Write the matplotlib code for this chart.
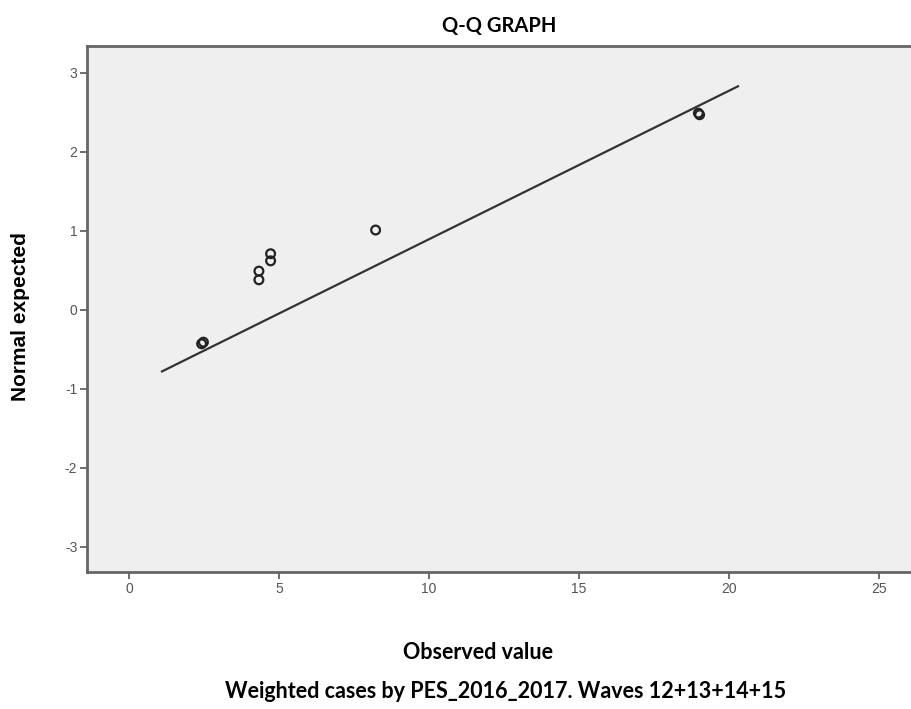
import matplotlib.pyplot as plt
import numpy as np

obs = [2.42, 2.48, 4.33, 4.33, 4.72, 4.72, 8.22, 18.98, 19.02]
expected = [-0.43, -0.41, 0.49, 0.38, 0.71, 0.62, 1.01, 2.49, 2.47]

# reference line end points
line_x = [1.1, 20.3]
line_y = [-0.78, 2.83]

xticks = [0, 5, 10, 15, 20, 25]
yticks = [-3, -2, -1, 0, 1, 2, 3]

plt.rcParams['font.family'] = ['Lato', 'DejaVu Sans']
plt.rcParams['axes.unicode_minus'] = False

fig = plt.figure(figsize=(9.12, 7.09), dpi=100)
ax = fig.add_axes([0.0954, 0.1932, 0.9046, 0.7419])
ax.set_facecolor('#efefef')

ax.plot(line_x, line_y, color='#333333', linewidth=1.6)
ax.scatter(obs, expected, s=40, facecolors='none', edgecolors='#222222', linewidths=1.6, zorder=3)

ax.set_xlim(-1.4, 26.1)
ax.set_ylim(-3.32, 3.34)
ax.set_xticks(xticks)
ax.set_yticks(yticks)
ax.tick_params(colors='#555555', labelsize=10, length=5, width=1.2, pad=2)
for lab in ax.get_xticklabels() + ax.get_yticklabels():
    lab.set_family('Liberation Sans')

for side in ['left', 'bottom', 'top']:
    ax.spines[side].set_color('#666666')
    ax.spines[side].set_linewidth(2)
ax.spines['right'].set_visible(False)

ax.set_title('Q-Q GRAPH', fontsize=14.5, fontweight='bold', pad=10)
fig.text(0.022, 0.553, 'Normal expected', fontsize=15, fontweight='bold', family='Liberation Sans',
         rotation=90, ha='center', va='center')
fig.text(0.524, 0.080, 'Observed value', fontsize=15.5, fontweight='bold', ha='center', va='center')
fig.text(0.554, 0.024, 'Weighted cases by PES_2016_2017. Waves 12+13+14+15',
         fontsize=15.5, fontweight='bold', ha='center', va='center')

plt.savefig('out.png', dpi=100)
